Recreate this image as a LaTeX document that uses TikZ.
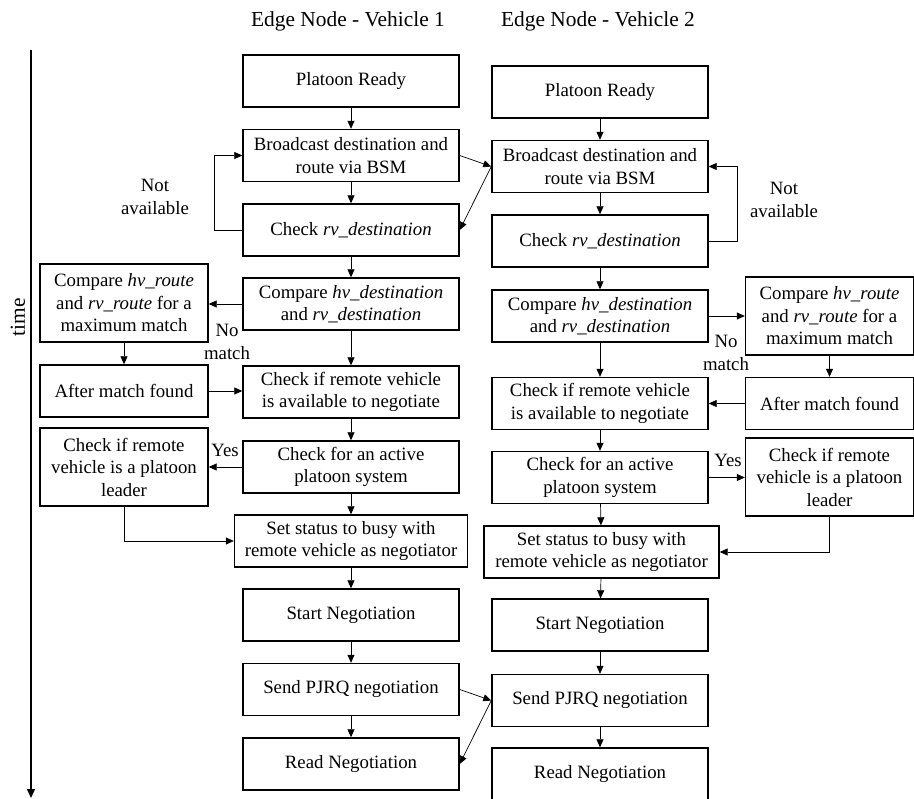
\documentclass[tikz,border=0pt]{standalone}
\usepackage{fontspec}
\setmainfont{Liberation Serif}
\usetikzlibrary{arrows.meta}
\begin{document}
\begin{tikzpicture}[x=1pt,y=-1pt,
  txt/.style={font=\fontsize{18.8}{22.5}\selectfont},
  head/.style={font=\fontsize{21.4}{25}\selectfont},
  box/.style={txt, draw, line width=1.4pt, align=center, inner sep=0pt,
    minimum width=216pt, minimum height=52pt},
  wide/.style={box, minimum width=233pt},
  side/.style={box, minimum width=168pt},
  tall/.style={side, minimum height=78pt},
  flow/.style={line width=0.7pt, -{Triangle[length=8pt,width=7pt]}},
  lbl/.style={txt, align=center, inner sep=0pt}]
\useasboundingbox (0,0) rectangle (914,799);

% column headings
\node[head] (h1) at (348,21) {Edge Node - Vehicle 1};
\node[head] (h2) at (598,21) {Edge Node - Vehicle 2};

% time axis
\coordinate (t0) at (31,50);
\coordinate (t1) at (31,798);
\draw[line width=1.5pt, -{Triangle[length=9pt,width=8pt]}] (t0) -- (t1);
\node[head, rotate=90] (time) at (18,317) {time};

% ---------------- vehicle 1 ----------------
\node[box]  (pr1) at (351,81)    {Platoon Ready};
\node[box]  (bc1) at (351,155.5) {Broadcast destination and\\route via BSM};
\node[box]  (ck1) at (351,230)   {Check \textit{rv\_destination}};
\node[box]  (cm1) at (351,304)   {Compare \textit{hv\_destination}\\and \textit{rv\_destination}};
\node[box]  (av1) at (351,392)   {Check if remote vehicle\\is available to negotiate};
\node[box]  (ac1) at (351,467)   {Check for an active\\platoon system};
\node[wide] (ss1) at (351,541)   {Set status to busy with\\remote vehicle as negotiator};
\node[box]  (sn1) at (351,615)   {Start Negotiation};
\node[box]  (sp1) at (351,689.5) {Send PJRQ negotiation};
\node[box]  (rn1) at (351,764)   {Read Negotiation};

\node[tall] (rt1) at (124,303) {Compare \textit{hv\_route}\\and \textit{rv\_route} for a\\maximum match};
\node[side] (mf1) at (124,391) {After match found};
\node[tall] (ld1) at (124,467) {Check if remote\\vehicle is a platoon\\leader};

\draw[flow] (pr1) -- (bc1);
\draw[flow] (bc1) -- (ck1);
\draw[flow] (ck1) -- (cm1);
\draw[flow] (cm1) -- (av1);
\draw[flow] (av1) -- (ac1);
\draw[flow] (ac1) -- (ss1);
\draw[flow] (ss1) -- (sn1);
\draw[flow] (sn1) -- (sp1);
\draw[flow] (sp1) -- (rn1);
\draw[flow] (ck1.west) -- ++(-28,0) |- (bc1.west);
\draw[flow] (cm1.west) -- (rt1.east |- cm1.west);
\draw[flow] (rt1) -- (mf1);
\draw[flow] (mf1.east) -- (av1.west |- mf1.east);
\draw[flow] (ac1.west) -- (ld1.east |- ac1.west);
\draw[flow] (ld1.south) |- (ss1.west);

\node[lbl] (na1) at (155,197) {Not\\available};
\node[lbl] (nm1) at (227,342) {No\\match};
\node[lbl] (ys1) at (225,450) {Yes};

% ---------------- vehicle 2 ----------------
\node[box]  (pr2) at (600,92)    {Platoon Ready};
\node[box]  (bc2) at (600,166.5) {Broadcast destination and\\route via BSM};
\node[box]  (ck2) at (600,241)   {Check \textit{rv\_destination}};
\node[box]  (cm2) at (600,316)   {Compare \textit{hv\_destination}\\and \textit{rv\_destination}};
\node[box]  (av2) at (600,403.5) {Check if remote vehicle\\is available to negotiate};
\node[box]  (ac2) at (600,477.5) {Check for an active\\platoon system};
\node[wide, minimum width=235pt] (ss2) at (601.5,552) {Set status to busy with\\remote vehicle as negotiator};
\node[box]  (sn2) at (600,625)   {Start Negotiation};
\node[box]  (sp2) at (600,700.5) {Send PJRQ negotiation};
\node[box]  (rn2) at (600,774)   {Read Negotiation};

\node[tall] (rt2) at (829.5,316)   {Compare \textit{hv\_route}\\and \textit{rv\_route} for a\\maximum match};
\node[side] (mf2) at (829.5,403.5) {After match found};
\node[tall] (ld2) at (829.5,477)   {Check if remote\\vehicle is a platoon\\leader};

\draw[flow] (pr2) -- (bc2);
\draw[flow] (bc2) -- (ck2);
\draw[flow] (ck2) -- (cm2);
\draw[flow] (cm2) -- (av2);
\draw[flow] (av2) -- (ac2);
\draw[flow] (ac2) -- (ss2);
\draw[flow] (ss2) -- (sn2);
\draw[flow] (sn2) -- (sp2);
\draw[flow] (sp2) -- (rn2);
\draw[flow] (ck2.east) -- ++(29,0) |- (bc2.east);
\draw[flow] (cm2.east) -- (rt2.west |- cm2.east);
\draw[flow] (rt2) -- (mf2);
\draw[flow] (mf2.west) -- (av2.east |- mf2.west);
\draw[flow] (ac2.east) -- (ld2.west |- ac2.east);
\draw[flow] (ld2.south) |- (ss2.east);

\node[lbl] (na2) at (784,200) {Not\\available};
\node[lbl] (nm2) at (726,353) {No\\match};
\node[lbl] (ys2) at (728,460) {Yes};

% ---------------- exchanges between the vehicles ----------------
\draw[flow] (bc1.east) -- (bc2.west);
\draw[flow] (bc2.west) -- (ck1.east);
\draw[flow] (sp1.east) -- (sp2.west);
\draw[flow] (sp2.west) -- (rn1.east);
\end{tikzpicture}
\end{document}
